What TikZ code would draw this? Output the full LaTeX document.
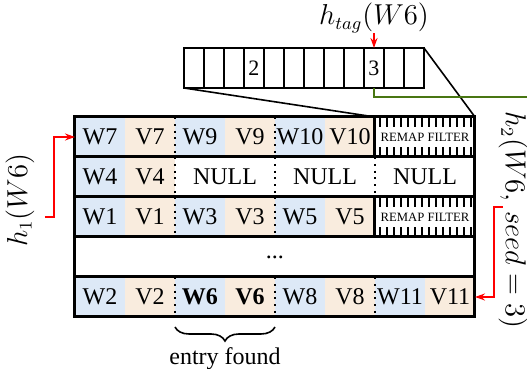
\documentclass[tikz,border=0pt]{standalone}
\usepackage{fontspec}
\setmainfont{Liberation Serif}
\usetikzlibrary{arrows.meta,decorations.pathreplacing}
\definecolor{wcell}{RGB}{221,233,247}
\definecolor{vcell}{RGB}{249,236,222}
\definecolor{tagline}{RGB}{72,118,18}
\newcommand{\filtfont}{\fontsize{6.35}{7}\selectfont}
\tikzset{
  cell/.style={anchor=north west, minimum width=25pt, minimum height=20pt,
    inner sep=0pt, outer sep=0pt, font=\fontsize{12}{14}\selectfont},
  wc/.style={cell, fill=wcell},
  vc/.style={cell, fill=vcell},
  blank/.style={cell, fill=white},
  wide/.style={minimum width=50pt},
  filt/.style={blank, wide, font=\filtfont},
  bucket/.style={draw, line width=1pt, minimum width=10pt, minimum height=20pt,
    inner sep=0pt, outer sep=0pt, anchor=north west, font=\fontsize{11}{13}\selectfont},
  grid/.style={line width=1.5pt},
  sep/.style={line width=1pt, dash pattern=on 1pt off 2.4pt},
  tick/.style={line width=1.1pt},
  hash/.style={red, line width=0.9pt, -{Stealth[length=5pt,width=3.5pt]}},
  lbl/.style={font=\fontsize{13.5}{16}\selectfont, inner sep=0pt},
}
\begin{document}
\begin{tikzpicture}[x=0.5pt, y=-0.5pt]
\useasboundingbox (0,0) rectangle (527,369);

% tag array
\foreach \k/\t in {1/,2/,3/,4/2,5/,6/,7/,8/,9/,10/3,11/,12/}
  \node[bucket] (k\k) at ({184+20*(\k-1)},48) {\t};

% row 1
\node[wc] (a1) at (75,117) {W7};
\node[vc] (a2) at (125,117) {V7};
\node[wc] (a3) at (175,117) {W9};
\node[vc] (a4) at (225,117) {V9};
\node[wc] (a5) at (275,117) {W10};
\node[vc] (a6) at (325,117) {V10};
\node[filt] (a7) at (375,117) {REMAP FILTER};
% row 2
\node[wc] (b1) at (75,157) {W4};
\node[vc] (b2) at (125,157) {V4};
\node[blank, wide] (b3) at (175,157) {NULL};
\node[blank, wide] (b4) at (275,157) {NULL};
\node[blank, wide] (b5) at (375,157) {NULL};
% row 3
\node[wc] (c1) at (75,197) {W1};
\node[vc] (c2) at (125,197) {V1};
\node[wc] (c3) at (175,197) {W3};
\node[vc] (c4) at (225,197) {V3};
\node[wc] (c5) at (275,197) {W5};
\node[vc] (c6) at (325,197) {V5};
\node[filt] (c7) at (375,197) {REMAP FILTER};
% row 4
\node[blank, minimum width=200pt] (d1) at (75,237) {...};
% row 5
\node[wc] (e1) at (75,277) {W2};
\node[vc] (e2) at (125,277) {V2};
\node[wc] (e3) at (175,277) {\bfseries W6};
\node[vc] (e4) at (225,277) {\bfseries V6};
\node[wc] (e5) at (275,277) {W8};
\node[vc] (e6) at (325,277) {V8};
\node[wc] (e7) at (375,277) {W11};
\node[vc] (e8) at (425,277) {V11};

% filter combs
\foreach \r in {117,197}
  \foreach \i in {0,...,13} {
    \draw[tick] ({380+7*\i},\r) -- ++(0,10);
    \draw[tick] ({380+7*\i},\r+40) -- ++(0,-10);
  }

% dotted slot separators
\foreach \n in {a3,a5,b3,b4,b5,c3,c5,e3,e5,e7}
  \draw[sep] (\n.north west) -- (\n.south west);

% table frame
\draw[grid] (a1.north west) rectangle (e8.south east);
\foreach \n in {b,c,d,e}
  \draw[grid] (\n1.north west) -- (\n1.north west -| e8.east);
\draw[grid] (a7.north west) -- (a7.south west);
\draw[grid] (c7.north west) -- (c7.south west);

% zoom lines from tag array
\draw[line width=0.8pt] (k1.south west) -- (a7.north west);
\draw[line width=0.8pt] (k12.north east) -- (a7.north east);

% tag pointer
\coordinate (tagout) at (527,97);
\draw[tagline, line width=1pt] (k10.south) |- (tagout);

% hash labels and arrows
\node[lbl] (htag) at (374,18) {$h_{tag}(W6)$};
\draw[hash] (htag.south) -- (k10.north);

\node[lbl, rotate=90] (h1) at (20,200) {$h_1(W6)$};
\coordinate (h1o) at (45,217);
\draw[hash] (h1o) -- ++(9,0) |- (a1.west);

\node[lbl, rotate=-90] (h2) at (513,220) {$h_2(W6,\,seed=3)$};
\coordinate (h2o) at (503,207);
\draw[hash] (h2o) -- ++(-9,0) |- (e8.east);

% found entry
\draw[decorate, decoration={brace, mirror, amplitude=7pt}, line width=0.8pt]
  ([yshift=-5pt]e3.south west) -- ([yshift=-5pt]e4.south east)
  node[midway, below=10pt, inner sep=0pt, font=\fontsize{12}{14}\selectfont] (found) {entry found};
\end{tikzpicture}
\end{document}
